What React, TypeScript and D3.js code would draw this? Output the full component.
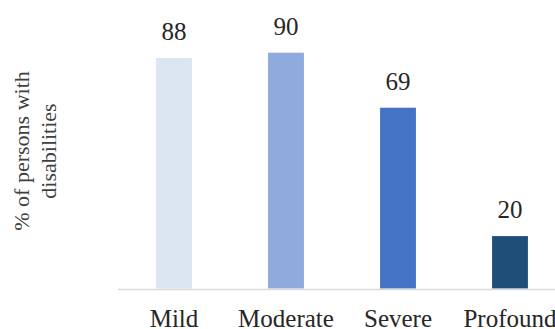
import React from "react";
import * as d3 from "d3";

const categories = ["Mild", "Moderate", "Severe", "Profound"];
const values = [88, 90, 69, 20];
const barColors = ["#dce6f2", "#8faadc", "#4472c4", "#1f4e79"];
const yTitleLines = ["% of persons with", "disabilities"];

const W = 555;
const H = 329;
const FONT = "Liberation Serif, DejaVu Serif, serif";

export default function App() {
  const x = d3
    .scaleBand<string>()
    .domain(categories)
    .range([118, 566])
    .paddingInner(0.68)
    .paddingOuter(0.34)
    .align(0.5);
  const y = d3.scaleLinear().domain([0, 100]).range([288.5, 26.5]);

  return (
    <svg
      width={W}
      height={H}
      style={{ position: "absolute", left: 0, top: 0, background: "#fff", fontFamily: FONT }}
    >
      {categories.map((c, i) => (
        <rect
          key={c}
          x={x(c)}
          y={y(values[i])}
          width={x.bandwidth()}
          height={y(0) - y(values[i])}
          fill={barColors[i]}
        />
      ))}
      <line x1={118} x2={W} y1={289.5} y2={289.5} stroke="#d9d9d9" strokeWidth={1.5} />
      {categories.map((c, i) => (
        <text
          key={"v" + c}
          x={(x(c) as number) + x.bandwidth() / 2}
          y={y(values[i]) - 18}
          textAnchor="middle"
          fontSize={25}
          fill="#262626"
          style={{ fontFamily: FONT }}
        >
          {values[i]}
        </text>
      ))}
      {categories.map((c) => (
        <text
          key={"c" + c}
          x={(x(c) as number) + x.bandwidth() / 2}
          y={327}
          textAnchor="middle"
          fontSize={25}
          fill="#262626"
          style={{ fontFamily: FONT }}
        >
          {c}
        </text>
      ))}
      <g transform="translate(0,151) rotate(-90)">
        {yTitleLines.map((t, i) => (
          <text
            key={t}
            x={0}
            y={29 + i * 27}
            textAnchor="middle"
            fontSize={22}
            fill="#404040"
            style={{ fontFamily: FONT }}
          >
            {t}
          </text>
        ))}
      </g>
    </svg>
  );
}
